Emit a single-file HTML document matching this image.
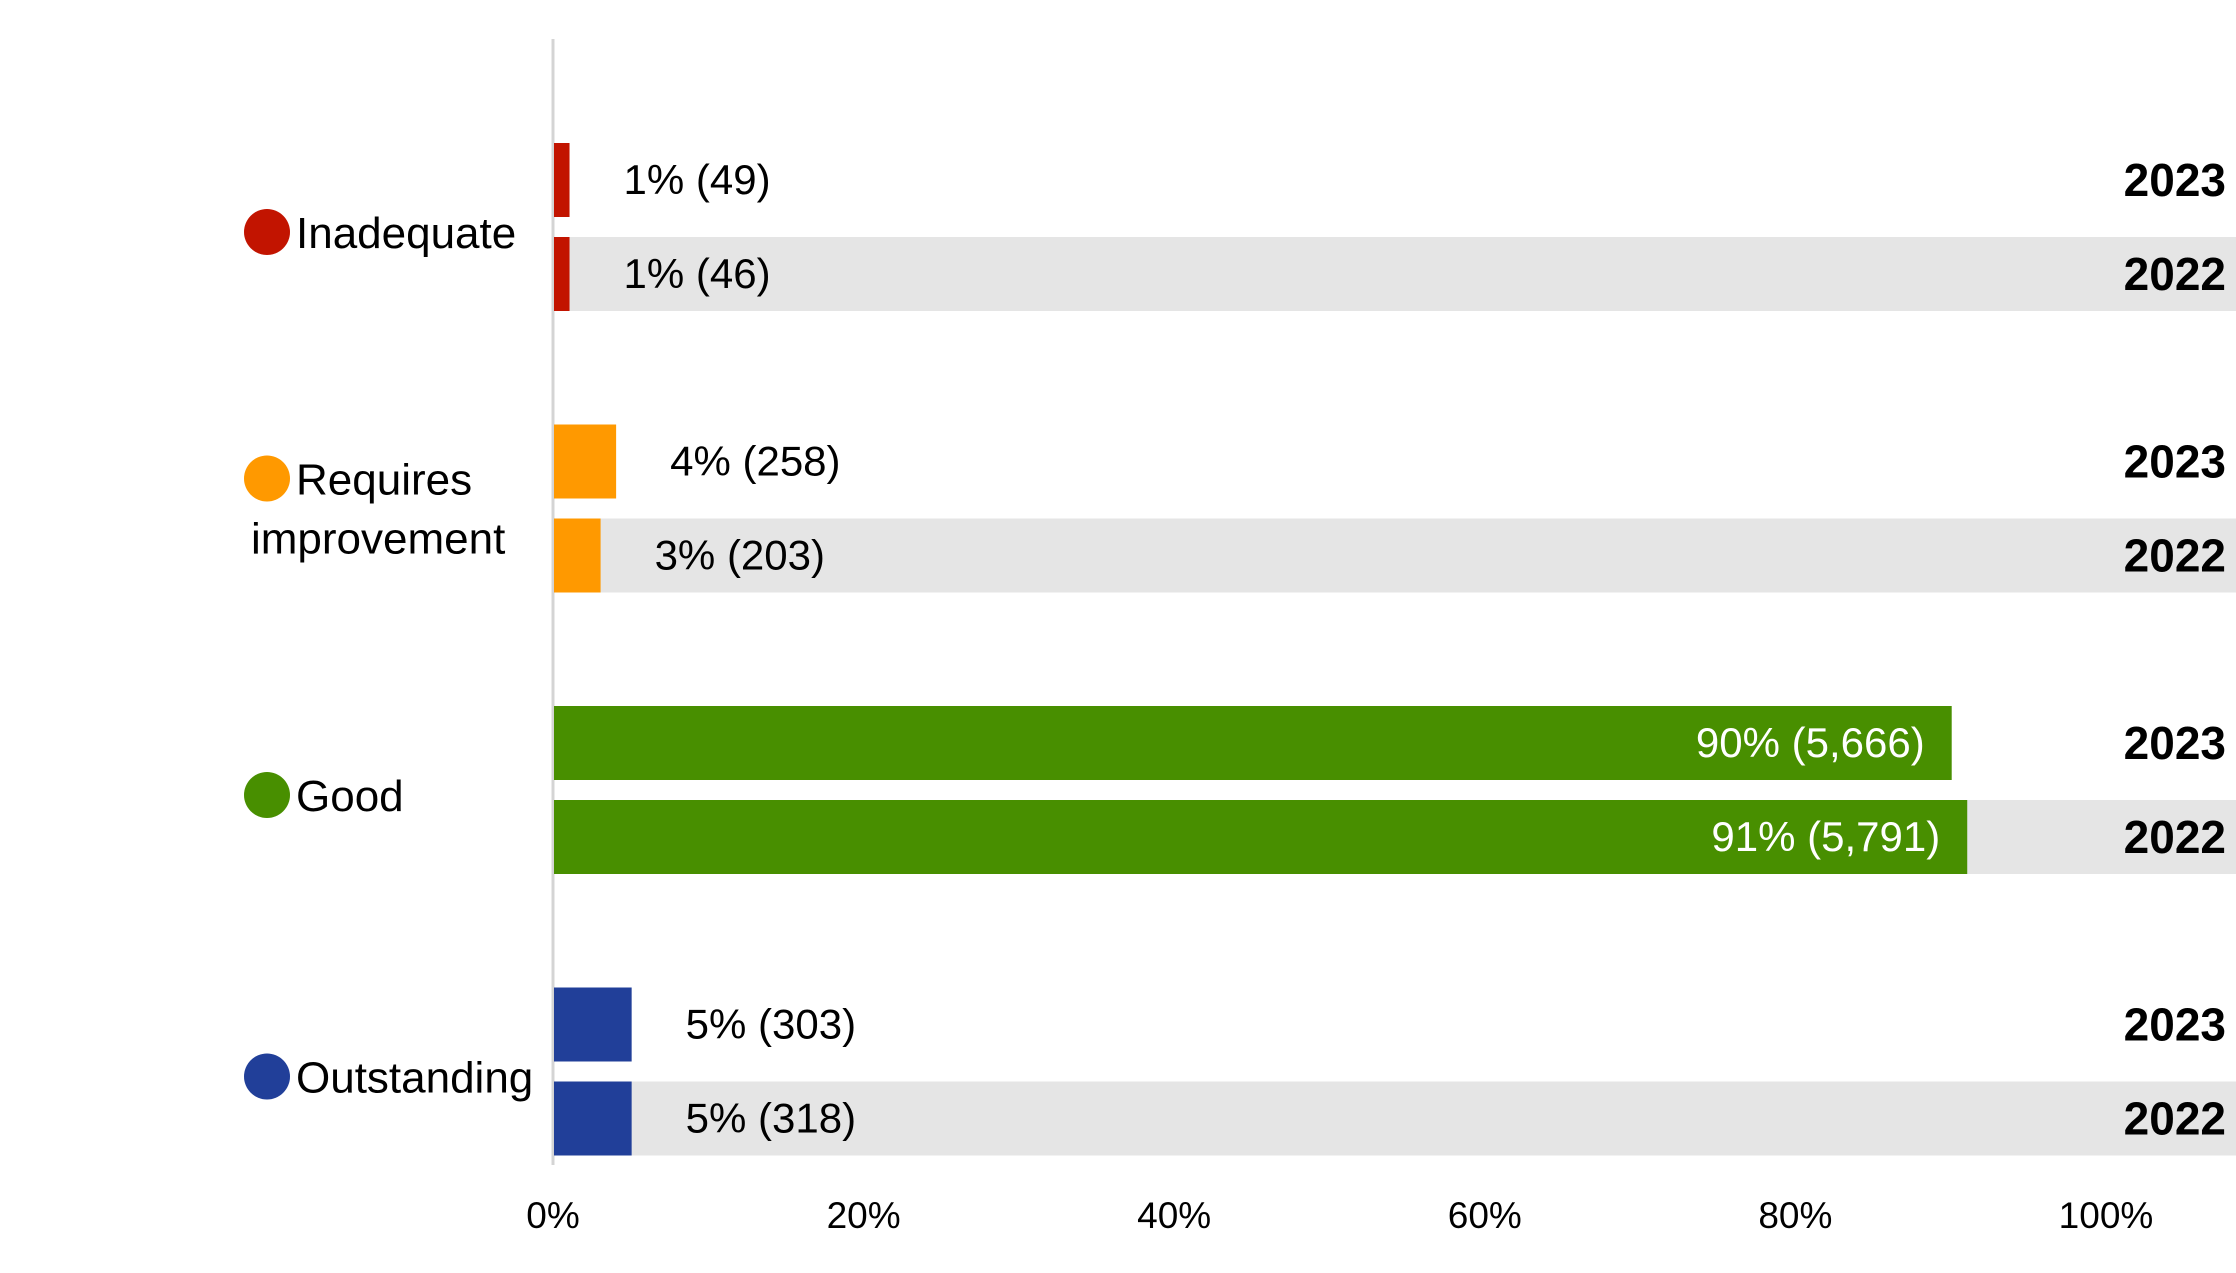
<!DOCTYPE html>
<html><head><meta charset="utf-8">
<style>
html,body{margin:0;padding:0;background:#fff;}
svg{display:block;font-family:"Liberation Sans",sans-serif;}
</style></head>
<body>
<svg id="chart" width="2236" height="1273" viewBox="0 0 2236 1273" xmlns="http://www.w3.org/2000/svg"></svg>
<script>
const categories = ["Inadequate", "Requires improvement", "Good", "Outstanding"];
const years = ["2023", "2022"];
const values2023 = [1, 4, 90, 5];
const values2022 = [1, 3, 91, 5];
const counts2023 = ["49", "258", "5,666", "303"];
const counts2022 = ["46", "203", "5,791", "318"];
const ticks = [0, 20, 40, 60, 80, 100];
const tickLabels = ["0%", "20%", "40%", "60%", "80%", "100%"];
const colors = ["#c21400", "#ff9900", "#488f00", "#213f99"];

const NS = "http://www.w3.org/2000/svg";
const svg = document.getElementById("chart");
const X0 = 553, X1 = 2106;
const xScale = v => X0 + (X1 - X0) * v / 100;
const groupTop = i => 143 + i * 281.5;
const BAR_H = 74, ROW = 94;

function mk(tag, attrs, text) {
  const el = document.createElementNS(NS, tag);
  for (const k in attrs) el.setAttribute(k, attrs[k]);
  if (text !== undefined) el.textContent = text;
  svg.appendChild(el);
  return el;
}

// grey bands for 2022 rows
categories.forEach((c, i) => {
  const y = groupTop(i) + ROW;
  const band = mk("rect", {x: X0, y: y, width: 2236 - X0, height: BAR_H, fill: "#e5e5e5"});
  
  
});

// axis line
const axis = mk("line", {x1: X0, y1: 39, x2: X0, y2: 1165, stroke: "#d4d4d4", "stroke-width": 3});



const series = [values2023, values2022];
const counts = [counts2023, counts2022];

categories.forEach((cat, i) => {
  series.forEach((vals, s) => {
    const y = groupTop(i) + s * ROW;
    const w = xScale(vals[i]) - X0;
    const bar = mk("rect", {x: X0 + 1, y: y, width: w, height: BAR_H, fill: colors[i]});
    
    
    const label = vals[i] + "% (" + counts[s][i] + ")";
    const inside = vals[i] > 50;
    const t = mk("text", {
      x: inside ? X0 + w - 26 : X0 + w + 55,
      y: y + BAR_H / 2 + 14,
      "font-size": 42,
      fill: inside ? "#fff" : "#000",
      "text-anchor": inside ? "end" : "start"
    }, label);
    
    
    const yr = mk("text", {x: 2226, y: y + BAR_H / 2 + 16, "font-size": 46, "font-weight": "bold", "text-anchor": "end", fill: "#000"}, years[s]);
    
    
  });
  // category label
  const cy = groupTop(i) + 84;
  const words = cat === "Requires improvement" ? ["Requires", "improvement"] : [cat];
  const circY = words.length > 1 ? cy - 30 : cy + 5;
  const circ = mk("circle", {cx: 267, cy: circY, r: 23, fill: colors[i]});
  
  
  if (words.length > 1) {
    const t1 = mk("text", {x: 296, y: circY + 16, "font-size": 44, fill: "#000"}, words[0]);
    
    
    const t2 = mk("text", {x: 251, y: circY + 75, "font-size": 44, fill: "#000"}, words[1]);
    
    
  } else {
    const t = mk("text", {x: 296, y: circY + 16, "font-size": 44, fill: "#000"}, words[0]);
    
    
  }
});

ticks.forEach((v, k) => {
  const t = mk("text", {x: xScale(v), y: 1228, "font-size": 37, "text-anchor": "middle", fill: "#000"}, tickLabels[k]);
  
  
});
</script>
</body></html>
